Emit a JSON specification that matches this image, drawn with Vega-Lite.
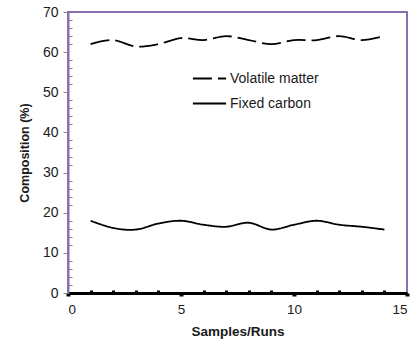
{
  "$schema": "https://vega.github.io/schema/vega-lite/v6.json",
  "width": 339,
  "height": 281,
  "autosize": {"type": "none"},
  "padding": {"left": 68, "top": 12, "right": 9, "bottom": 49},
  "background": "white",
  "config": {
    "font": "Liberation Sans",
    "view": {"stroke": "#8A6FB0", "strokeWidth": 2},
    "axis": {"labelFont": "Liberation Sans", "titleFont": "Liberation Sans", "grid": false, "labelColor": "#1a1a1a", "titleColor": "#1a1a1a"}
  },
  "data": {"values": [
    {"run": 1, "value": 62.0, "series": "Volatile matter"},
    {"run": 2, "value": 63.0, "series": "Volatile matter"},
    {"run": 3, "value": 61.4, "series": "Volatile matter"},
    {"run": 4, "value": 62.0, "series": "Volatile matter"},
    {"run": 5, "value": 63.5, "series": "Volatile matter"},
    {"run": 6, "value": 63.0, "series": "Volatile matter"},
    {"run": 7, "value": 64.0, "series": "Volatile matter"},
    {"run": 8, "value": 63.0, "series": "Volatile matter"},
    {"run": 9, "value": 62.0, "series": "Volatile matter"},
    {"run": 10, "value": 63.0, "series": "Volatile matter"},
    {"run": 11, "value": 63.0, "series": "Volatile matter"},
    {"run": 12, "value": 64.0, "series": "Volatile matter"},
    {"run": 13, "value": 63.0, "series": "Volatile matter"},
    {"run": 14, "value": 64.0, "series": "Volatile matter"},
    {"run": 1, "value": 18.0, "series": "Fixed carbon"},
    {"run": 2, "value": 16.2, "series": "Fixed carbon"},
    {"run": 3, "value": 15.8, "series": "Fixed carbon"},
    {"run": 4, "value": 17.3, "series": "Fixed carbon"},
    {"run": 5, "value": 18.0, "series": "Fixed carbon"},
    {"run": 6, "value": 17.0, "series": "Fixed carbon"},
    {"run": 7, "value": 16.5, "series": "Fixed carbon"},
    {"run": 8, "value": 17.5, "series": "Fixed carbon"},
    {"run": 9, "value": 15.8, "series": "Fixed carbon"},
    {"run": 10, "value": 17.0, "series": "Fixed carbon"},
    {"run": 11, "value": 18.0, "series": "Fixed carbon"},
    {"run": 12, "value": 17.0, "series": "Fixed carbon"},
    {"run": 13, "value": 16.5, "series": "Fixed carbon"},
    {"run": 14, "value": 15.8, "series": "Fixed carbon"}
  ]},
  "layer": [
    {
      "mark": {"type": "line", "opacity": 0, "interpolate": "cardinal"},
      "encoding": {
        "detail": {"field": "series"},
        "x": {"field": "run", "type": "quantitative", "scale": {"domain": [0, 15], "nice": false},
          "axis": {"values": [1,2,3,4,6,7,8,9,11,12,13,14], "labels": false, "title": null, "domain": false, "tickSize": -3, "tickWidth": 3, "tickColor": "black", "orient": "bottom"}},
        "y": {"field": "value", "type": "quantitative", "scale": {"domain": [0, 70], "nice": false},
          "axis": {"values": [2,4,6,8,12,14,16,18,22,24,26,28,32,34,36,38,42,44,46,48,52,54,56,58,62,64,66,68], "labels": false, "title": null, "domain": false, "tickSize": -4, "tickWidth": 1, "tickColor": "#888888", "orient": "left"}}
      }
    },
    {
      "mark": {"type": "line", "interpolate": "cardinal", "strokeWidth": 1.8, "color": "black"},
      "encoding": {
        "x": {"field": "run", "type": "quantitative", "scale": {"domain": [0, 15], "nice": false},
          "axis": {"values": [0, 5, 10, 15], "title": "Samples/Runs", "titleFontSize": 13.5, "titleFontWeight": "bold", "titlePadding": 9, "labelFontSize": 13.5, "labelPadding": 6, "domainColor": "black", "domainWidth": 3, "tickColor": "black", "tickWidth": 4, "tickSize": 3, "orient": "bottom"}},
        "y": {"field": "value", "type": "quantitative", "scale": {"domain": [0, 70], "nice": false},
          "axis": {"values": [0, 10, 20, 30, 40, 50, 60, 70], "title": "Composition  (%)", "titleFontSize": 12.5, "titleFontWeight": "bold", "titlePadding": 11, "labelFontSize": 14, "labelPadding": 5, "domainColor": "#8A6FB0", "domainWidth": 2, "tickColor": "#888888", "tickSize": 5, "tickWidth": 1, "orient": "left"}},
        "strokeDash": {"field": "series", "type": "nominal",
          "scale": {"domain": ["Volatile matter", "Fixed carbon"], "range": [[19, 6], [1, 0]]},
          "legend": {"title": null, "orient": "none", "legendX": 124, "legendY": 49, "symbolType": "stroke", "symbolSize": 1100, "symbolStrokeWidth": 1.8, "symbolStrokeColor": "black", "labelFontSize": 14, "labelColor": "#1a1a1a", "labelOffset": 3, "rowPadding": -7}}
      }
    }
  ],
  "resolve": {"axis": {"x": "independent", "y": "independent"}}
}
